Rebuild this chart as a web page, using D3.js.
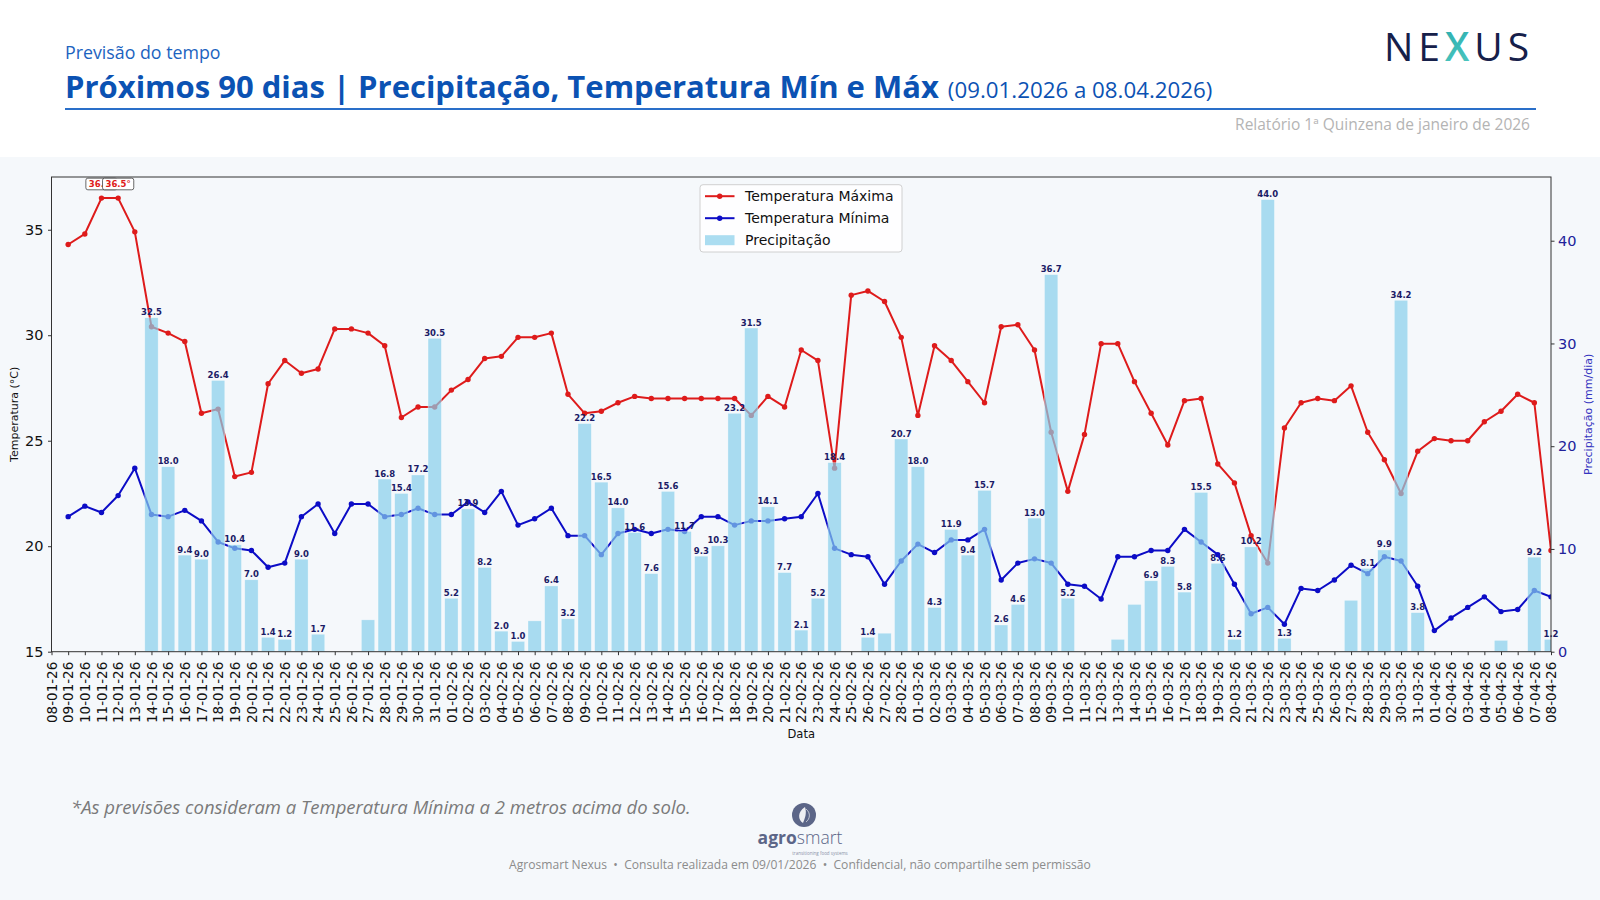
<!DOCTYPE html>
<html>
<head>
<meta charset="utf-8">
<script src="https://cdn.jsdelivr.net/npm/d3@7"></script>
<style>
  body { margin: 0; background: #f5f8fb; }
  svg { display: block; }
</style>
</head>
<body>
<svg id="chart" width="1600" height="900"></svg>
<script>
(function(){
    //Categories: one tick per day, the first day has no forecast
    var dates = [
        "08-01-26","09-01-26","10-01-26","11-01-26","12-01-26","13-01-26","14-01-26","15-01-26",
        "16-01-26","17-01-26","18-01-26","19-01-26","20-01-26","21-01-26","22-01-26","23-01-26",
        "24-01-26","25-01-26","26-01-26","27-01-26","28-01-26","29-01-26","30-01-26","31-01-26",
        "01-02-26","02-02-26","03-02-26","04-02-26","05-02-26","06-02-26","07-02-26","08-02-26",
        "09-02-26","10-02-26","11-02-26","12-02-26","13-02-26","14-02-26","15-02-26","16-02-26",
        "17-02-26","18-02-26","19-02-26","20-02-26","21-02-26","22-02-26","23-02-26","24-02-26",
        "25-02-26","26-02-26","27-02-26","28-02-26",
        "01-03-26","02-03-26","03-03-26","04-03-26","05-03-26","06-03-26","07-03-26","08-03-26",
        "09-03-26","10-03-26","11-03-26","12-03-26","13-03-26","14-03-26","15-03-26","16-03-26",
        "17-03-26","18-03-26","19-03-26","20-03-26","21-03-26","22-03-26","23-03-26","24-03-26",
        "25-03-26","26-03-26","27-03-26","28-03-26","29-03-26","30-03-26","31-03-26",
        "01-04-26","02-04-26","03-04-26","04-04-26","05-04-26","06-04-26","07-04-26","08-04-26"
    ];

    //Maximum temperature (°C), 09-01-26 to 08-04-26
    var tMax = [
        34.3,34.8,36.5,36.5,34.9,30.4,30.1,29.7,26.3,26.5,23.3,23.5,27.7,28.8,28.2,28.4,30.3,30.3,30.1,29.5,26.1,26.6,26.6,
        27.4,27.9,28.9,29.0,29.9,29.9,30.1,27.2,26.3,26.4,26.8,27.1,27.0,27.0,27.0,27.0,27.0,27.0,26.2,27.1,26.6,29.3,28.8,23.7,31.9,32.1,31.6,29.9,
        26.2,29.5,28.8,27.8,26.8,30.4,30.5,29.3,25.4,22.6,25.3,29.6,29.6,27.8,26.3,24.8,26.9,27.0,23.9,23.0,20.5,19.2,25.6,26.8,27.0,26.9,27.6,25.4,24.1,22.5,24.5,
        25.1,25.0,25.0,25.9,26.4,27.2,26.8,19.8
    ];

    //Minimum temperature (°C)
    var tMin = [
        21.4,21.9,21.6,22.4,23.7,21.5,21.4,21.7,21.2,20.2,19.9,19.8,19.0,19.2,21.4,22.0,20.6,22.0,22.0,21.4,21.5,21.8,21.5,
        21.5,22.1,21.6,22.6,21.0,21.3,21.8,20.5,20.5,19.6,20.6,20.8,20.6,20.8,20.7,21.4,21.4,21.0,21.2,21.2,21.3,21.4,22.5,19.9,19.6,19.5,18.2,19.3,
        20.1,19.7,20.3,20.3,20.8,18.4,19.2,19.4,19.2,18.2,18.1,17.5,19.5,19.5,19.8,19.8,20.8,20.2,19.6,18.2,16.8,17.1,16.3,18.0,17.9,18.4,19.1,18.7,19.5,19.3,18.1,
        16.0,16.6,17.1,17.6,16.9,17.0,17.9,17.6
    ];

    //Precipitation (mm/dia)
    var precip = [
        0,0,0,0,0,32.5,18.0,9.4,9.0,26.4,10.4,7.0,1.4,1.2,9.0,1.7,0,0,3.1,16.8,15.4,17.2,30.5,
        5.2,13.9,8.2,2.0,1.0,3.0,6.4,3.2,22.2,16.5,14.0,11.6,7.6,15.6,11.7,9.3,10.3,23.2,31.5,14.1,7.7,2.1,5.2,18.4,0,1.4,1.8,20.7,
        18.0,4.3,11.9,9.4,15.7,2.6,4.6,13.0,36.7,5.2,0,0,1.2,4.6,6.9,8.3,5.8,15.5,8.6,1.2,10.2,44.0,1.3,0,0,0,5.0,8.1,9.9,34.2,3.8,
        0,0,0,0,1.1,0,9.2,1.2
    ];

    //Bars that carry no value label in the original
    var unlabelled = ["27-01-26","06-02-26","27-02-26","13-03-26","14-03-26","27-03-26","05-04-26"];

    var tempTicks = [15, 20, 25, 30, 35];
    var precipTicks = [0, 10, 20, 30, 40];

    //Plot area
    var m = {left: 51.5, right: 1551, top: 177, bottom: 651.7};
    var chartFont = "DejaVu Sans, Verdana, sans-serif";
    var pageFont = "'Open Sans', 'Noto Sans', sans-serif";
    var redColor = "#de1b1b";
    var blueColor = "#0c0cc6";
    var barColor = "#87ceeb";

    var rows = dates.slice(1).map(function(d, i){
        return {date: d, max: tMax[i], min: tMin[i], p: precip[i]};
    });

    var svg = d3.select("#chart");

    //Page background: white header band, light body
    svg.append("rect").attr("width", 1600).attr("height", 900).attr("fill", "#f5f8fb");
    svg.append("rect").attr("width", 1600).attr("height", 157).attr("fill", "#ffffff");

    //Header
    svg.append("text")
        .attr("x", 65).attr("y", 59)
        .style("font-family", pageFont).style("font-size", "17.8px")
        .attr("fill", "#1c63c0")
        .text("Previsão do tempo");

    var title = svg.append("text")
        .attr("x", 65).attr("y", 98)
        .style("font-family", pageFont)
        .attr("fill", "#0b52b3");
    title.append("tspan")
        .style("font-size", "31px").style("font-weight", 700)
        .text("Próximos 90 dias | Precipitação, Temperatura Mín e Máx");
    title.append("tspan")
        .attr("dx", 9)
        .style("font-size", "22.3px").style("font-weight", 400)
        .text("(09.01.2026 a 08.04.2026)");

    svg.append("line")
        .attr("x1", 65).attr("x2", 1536).attr("y1", 109).attr("y2", 109)
        .attr("stroke", "#2a6fc9").attr("stroke-width", 2);

    svg.append("text")
        .attr("x", 1530).attr("y", 130)
        .attr("text-anchor", "end")
        .style("font-family", pageFont).style("font-size", "15.5px")
        .attr("fill", "#b4b4b4")
        .text("Relatório 1ª Quinzena de janeiro de 2026");

    //NEXUS logo
    var defs = svg.append("defs");
    var grad = defs.append("linearGradient").attr("id", "xGrad")
        .attr("x1", "0").attr("y1", "0").attr("x2", "1").attr("y2", "1");
    grad.append("stop").attr("offset", "0%").attr("stop-color", "#1a9fa6");
    grad.append("stop").attr("offset", "100%").attr("stop-color", "#5fd6c8");
    var logo = svg.append("text")
        .attr("x", 1384).attr("y", 61)
        .style("font-family", pageFont).style("font-size", "39px")
        .style("letter-spacing", "5px")
        .attr("fill", "#16204a");
    logo.append("tspan").text("NE");
    logo.append("tspan").attr("fill", "url(#xGrad)").style("font-weight", 600).text("X");
    logo.append("tspan").text("US");

    //Scales
    var x = d3.scalePoint().domain(dates).range([m.left, m.right]);
    var step = x.step();
    var yT = d3.scaleLinear().domain([15, d3.max(tMax) + 1]).range([m.bottom, m.top]);
    var yP = d3.scaleLinear().domain([0, d3.max(precip) * 1.05]).range([m.bottom, m.top]);

    defs.append("clipPath").attr("id", "plotClip")
        .append("rect")
        .attr("x", m.left).attr("y", m.top)
        .attr("width", m.right - m.left).attr("height", m.bottom - m.top);

    var plot = svg.append("g").attr("clip-path", "url(#plotClip)");

    //Temperature lines with markers
    var series = [
        {key: "max", color: redColor, name: "Temperatura Máxima"},
        {key: "min", color: blueColor, name: "Temperatura Mínima"}
    ];
    series.forEach(function(s){
        var line = d3.line()
            .x(function(d){ return x(d.date); })
            .y(function(d){ return yT(d[s.key]); });
        plot.append("path")
            .datum(rows)
            .attr("d", line)
            .attr("fill", "none")
            .attr("stroke", s.color)
            .attr("stroke-width", 2)
            .attr("stroke-linejoin", "round");
        plot.selectAll(".pt-" + s.key)
            .data(rows)
            .enter().append("circle")
            .attr("class", "pt-" + s.key)
            .attr("cx", function(d){ return x(d.date); })
            .attr("cy", function(d){ return yT(d[s.key]); })
            .attr("r", 2.7)
            .attr("fill", s.color);
    });

    //Precipitation bars, semi transparent on top of the lines
    var wetRows = rows.filter(function(d){ return d.p > 0; });
    var barW = step * 0.8;
    plot.selectAll(".bar")
        .data(wetRows)
        .enter().append("rect")
        .attr("class", "bar")
        .attr("x", function(d){ return x(d.date) - barW / 2; })
        .attr("y", function(d){ return yP(d.p); })
        .attr("width", barW)
        .attr("height", function(d){ return yP(0) - yP(d.p); })
        .attr("fill", barColor)
        .attr("fill-opacity", 0.7)
        .attr("stroke", "#ffffff")
        .attr("stroke-opacity", 0.5)
        .attr("stroke-width", 0.6);

    //Bar value labels
    svg.selectAll(".barLabel")
        .data(wetRows.filter(function(d){ return unlabelled.indexOf(d.date) < 0; }))
        .enter().append("text")
        .attr("class", "barLabel")
        .attr("x", function(d){ return x(d.date); })
        .attr("y", function(d){ return yP(d.p) - 2.5; })
        .attr("text-anchor", "middle")
        .style("font-family", chartFont).style("font-size", "8.5px").style("font-weight", "bold")
        .attr("fill", "#1b1b66")
        .text(function(d){ return d.p.toFixed(1); });

    //Peak temperature annotations (boxes overlap, as in the source)
    var peak = d3.max(tMax);
    rows.filter(function(d){ return d.max === peak; }).forEach(function(d){
        var g = svg.append("g").attr("transform", "translate(" + x(d.date) + "," + (m.top + 7) + ")");
        var box = g.append("rect").attr("fill", "#ffffff").attr("stroke", "#444")
            .attr("stroke-width", 0.8).attr("rx", 2);
        var t = g.append("text")
            .attr("text-anchor", "middle").attr("dy", "0.35em")
            .style("font-family", chartFont).style("font-size", "8.5px").style("font-weight", "bold")
            .attr("fill", redColor)
            .text(d.max.toFixed(1) + "°");
        var tw = t.node().getComputedTextLength();
        box.attr("x", -tw / 2 - 3).attr("y", -5.8).attr("width", tw + 6).attr("height", 11.6);
    });

    //Spines
    svg.append("rect")
        .attr("x", m.left).attr("y", m.top)
        .attr("width", m.right - m.left).attr("height", m.bottom - m.top)
        .attr("fill", "none").attr("stroke", "#333").attr("stroke-width", 1);

    //Axes
    var xAxis = svg.append("g")
        .attr("transform", "translate(0," + m.bottom + ")")
        .call(d3.axisBottom(x).tickSize(3.5));
    xAxis.select(".domain").remove();
    xAxis.selectAll("line").attr("stroke", "#333");
    xAxis.selectAll("text")
        .attr("transform", "rotate(-90)")
        .attr("x", -10).attr("y", 0).attr("dy", "0.35em")
        .style("text-anchor", "end")
        .style("font-family", chartFont).style("font-size", "13.5px")
        .attr("fill", "#111");

    var yAxisL = svg.append("g")
        .attr("transform", "translate(" + m.left + ",0)")
        .call(d3.axisLeft(yT).tickValues(tempTicks).tickSize(3.5).tickPadding(4.5));
    yAxisL.select(".domain").remove();
    yAxisL.selectAll("line").attr("stroke", "#333");
    yAxisL.selectAll("text")
        .style("font-family", chartFont).style("font-size", "14.5px")
        .attr("fill", "#111");

    var yAxisR = svg.append("g")
        .attr("transform", "translate(" + m.right + ",0)")
        .call(d3.axisRight(yP).tickValues(precipTicks).tickSize(3.5).tickPadding(3.5));
    yAxisR.select(".domain").remove();
    yAxisR.selectAll("line").attr("stroke", "#333");
    yAxisR.selectAll("text")
        .style("font-family", chartFont).style("font-size", "14.5px")
        .attr("fill", "#21219a");

    //Axis titles
    var midY = (m.top + m.bottom) / 2;
    svg.append("text")
        .attr("transform", "translate(14," + midY + ") rotate(-90)")
        .attr("text-anchor", "middle").attr("dy", "0.35em")
        .style("font-family", chartFont).style("font-size", "11px")
        .attr("fill", "#111")
        .text("Temperatura (°C)");
    svg.append("text")
        .attr("transform", "translate(1588," + midY + ") rotate(-90)")
        .attr("text-anchor", "middle").attr("dy", "0.35em")
        .style("font-family", chartFont).style("font-size", "11px")
        .attr("fill", "#3434c0")
        .text("Precipitação (mm/dia)");
    svg.append("text")
        .attr("x", (m.left + m.right) / 2).attr("y", 734)
        .attr("text-anchor", "middle").attr("dy", "0.35em")
        .style("font-family", chartFont).style("font-size", "11.5px")
        .attr("fill", "#111")
        .text("Data");

    //Legend, upper center
    var legend = svg.append("g").attr("transform", "translate(700,184.7)");
    legend.append("rect")
        .attr("width", 202).attr("height", 67.3).attr("rx", 3)
        .attr("fill", "#ffffff").attr("fill-opacity", 0.85)
        .attr("stroke", "#d0d0d0");
    var items = series.concat([{key: "p", color: barColor, name: "Precipitação"}]);
    items.forEach(function(s, i){
        var cy = 11.5 + i * 22;
        if (s.key === "p") {
            legend.append("rect")
                .attr("x", 5).attr("y", cy - 5).attr("width", 29.5).attr("height", 10)
                .attr("fill", barColor).attr("fill-opacity", 0.7);
        } else {
            legend.append("line")
                .attr("x1", 5).attr("x2", 34.5).attr("y1", cy).attr("y2", cy)
                .attr("stroke", s.color).attr("stroke-width", 2);
            legend.append("circle").attr("cx", 19.7).attr("cy", cy).attr("r", 2.7).attr("fill", s.color);
        }
        legend.append("text")
            .attr("x", 45).attr("y", cy).attr("dy", "0.35em")
            .style("font-family", chartFont).style("font-size", "14px")
            .attr("fill", "#111")
            .text(s.name);
    });

    //Footer note
    svg.append("text")
        .attr("x", 71).attr("y", 814)
        .style("font-family", pageFont).style("font-size", "18.5px").style("font-style", "italic")
        .attr("fill", "#7a7a7a")
        .text("*As previsões consideram a Temperatura Mínima a 2 metros acima do solo.");

    //agrosmart logo
    var ag = svg.append("g").attr("transform", "translate(804,815)");
    ag.append("circle").attr("r", 12).attr("fill", "#5c6688");
    ag.append("path")
        .attr("d", "M1,-8 C-7,-3 -6,5 -1,8 C1,3 3,-2 1,-8 Z")
        .attr("fill", "#ffffff").attr("fill-opacity", 0.9);
    ag.append("path")
        .attr("d", "M2,-6 C7,-2 6,4 2,7")
        .attr("fill", "none").attr("stroke", "#ffffff").attr("stroke-opacity", 0.6).attr("stroke-width", 1);
    var agText = svg.append("text")
        .attr("x", 800).attr("y", 844)
        .attr("text-anchor", "middle")
        .style("font-family", pageFont).style("font-size", "17.5px")
        .attr("fill", "#5c6688");
    agText.append("tspan").style("font-weight", 700).text("agro");
    agText.append("tspan").style("font-weight", 300).text("smart");
    svg.append("text")
        .attr("x", 820).attr("y", 855)
        .attr("text-anchor", "middle")
        .style("font-family", pageFont).style("font-size", "4.5px")
        .attr("fill", "#8a91a8")
        .text("transitioning food systems");

    //Footer
    svg.append("text")
        .attr("x", 800).attr("y", 869)
        .attr("text-anchor", "middle")
        .style("font-family", pageFont).style("font-size", "12.1px")
        .attr("fill", "#8c8c8c")
        .attr("xml:space", "preserve")
        .text("Agrosmart Nexus  •  Consulta realizada em 09/01/2026  •  Confidencial, não compartilhe sem permissão");
})();
</script>
</body>
</html>
